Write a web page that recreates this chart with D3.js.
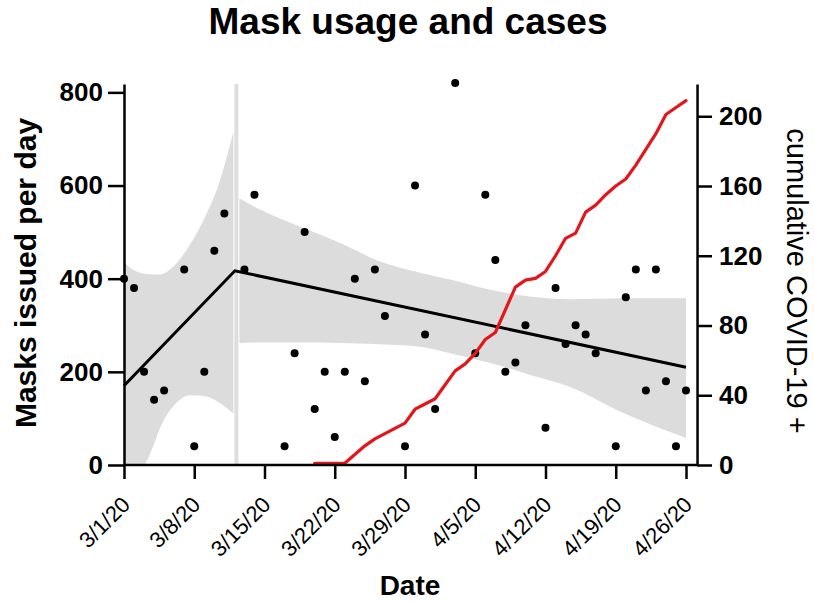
<!DOCTYPE html>
<html><head><meta charset="utf-8">
<script src="https://cdn.jsdelivr.net/npm/d3@7"></script>
<style>
body{margin:0;background:#fff;}
svg{display:block;font-family:"Liberation Sans",Arial,Helvetica,sans-serif;}
</style>
</head><body>
<svg id="c" width="814" height="604"></svg>
<script>
// ---- data (day 0 = 3/1/20) ----
const maskDays   = [0,1,2,3,4,6,7,8,9,10,12,13,16,17,18,19,20,21,22,23,24,25,26,28,29,30,31,33,35,36,37,38,39,40,42,43,44,45,46,47,49,50,51,52,53,54,55,56];
const maskValues = [400,380,200,140,160,420,40,200,460,540,420,580,40,240,500,120,200,60,200,400,180,420,320,40,600,280,120,820,240,580,440,200,220,300,80,380,260,300,280,240,40,360,420,160,420,180,40,160];

const caseDays   = [19,20,21,22,23,24,25,26,27,28,29,30,31,32,33,34,35,36,37,38,39,40,41,42,43,44,45,46,47,48,49,50,51,52,53,54,55,56];
const caseValues = [1,1,1,1,6,11,15,18,21,24,32,35,38,46,54,58,64,72,76,89,102,106,107,111,120,130,133,145,149,155,160,164,172,181,190,201,205,209];

const fitDays   = [0, 11.05, 56];
const fitValues = [170, 417, 210];

const band1Days  = [0, 1, 1.9, 2.9, 3.6, 4.2, 5.2, 6.6, 8.2, 9.4, 10.9];
const band1Upper = [436, 418, 411, 409, 409, 414, 432, 474, 538, 600, 715];
const band1Lower = [0, 0, 0, 40, 80, 105, 133, 150, 147, 135, 110];

const band2Days  = [11.5, 13.6, 17.5, 21.5, 25.5, 29.5, 32.5, 36.5, 40.4, 44.4, 49.7, 56];
const band2Upper = [572, 548, 512, 477, 437, 413, 398, 376, 362, 356, 358, 358];
const band2Lower = [262, 263, 263, 262, 259, 254, 240, 219, 194, 168, 112, 58];

const breakSpan = [11.0, 11.4];

const tickDays   = [0,7,14,21,28,35,42,49,56];
const tickLabels = ["3/1/20","3/8/20","3/15/20","3/22/20","3/29/20","4/5/20","4/12/20","4/19/20","4/26/20"];
const leftTicks  = [0,200,400,600,800];
const rightTicks = [0,40,80,120,160,200];

// ---- scales ----
const svg = d3.select("#c");
const x  = d3.scaleLinear().domain([0,56]).range([124,686]);
const yL = d3.scaleLinear().domain([0,818]).range([465,84]);
const yR = d3.scaleLinear().domain([0,218.5]).range([465,84]);
const xRight = x(57.1);

// ---- confidence bands ----
const band1 = band1Days.map((d,i)=>({d, lo:band1Lower[i], hi:band1Upper[i]}));
const band2 = band2Days.map((d,i)=>({d, lo:band2Lower[i], hi:band2Upper[i]}));
const area = d3.area().x(p=>x(p.d)).y0(p=>yL(p.lo)).y1(p=>yL(p.hi)).curve(d3.curveMonotoneX);
svg.append("path").attr("d", area(band1)).attr("fill","#dcdcdc");
svg.append("path").attr("d", area(band2)).attr("fill","#dcdcdc");
svg.append("rect")
  .attr("x", x(breakSpan[0])).attr("width", x(breakSpan[1]) - x(breakSpan[0]))
  .attr("y", yL(818)).attr("height", yL(0) - yL(818))
  .attr("fill","#dedede");

// ---- fit line ----
const fit = fitDays.map((d,i)=>({d, v:fitValues[i]}));
svg.append("path")
  .attr("d", d3.line().x(p=>x(p.d)).y(p=>yL(p.v))(fit))
  .attr("fill","none").attr("stroke","#000").attr("stroke-width",3);

// ---- dots ----
svg.append("g").selectAll("circle")
  .data(maskDays.map((d,i)=>({d, v:maskValues[i]})))
  .join("circle")
  .attr("cx", p=>x(p.d)).attr("cy", p=>yL(p.v)).attr("r",4).attr("fill","#000");

// ---- cases line ----
const cases = caseDays.map((d,i)=>({d, v:caseValues[i]}));
svg.append("path")
  .attr("d", d3.line().x(p=>x(p.d)).y(p=>yR(p.v))(cases))
  .attr("fill","none").attr("stroke","#e3161b").attr("stroke-width",3.2)
  .attr("stroke-linejoin","round").attr("stroke-linecap","round");

// ---- axes ----
function styleAxis(g, fs, weight){
  g.selectAll("line").attr("stroke","#000").attr("stroke-width",2.5);
  g.selectAll("path.domain").attr("stroke","#000").attr("stroke-width",2.5);
  g.selectAll("text").attr("fill","#000").style("font-size",fs+"px").style("font-weight",weight)
   .style("font-family",'"Liberation Sans",Arial,sans-serif');
}
const gL = svg.append("g").attr("transform",`translate(${x(0)},0)`)
  .call(d3.axisLeft(yL).tickValues(leftTicks).tickSize(16).tickSizeOuter(0).tickPadding(5));
styleAxis(gL, 26, "bold");

const gR = svg.append("g").attr("transform",`translate(${xRight},0)`)
  .call(d3.axisRight(yR).tickValues(rightTicks).tickSize(15).tickSizeOuter(0).tickPadding(7));
styleAxis(gR, 26, "bold");

const gB = svg.append("g").attr("transform",`translate(0,${yL(0)})`)
  .call(d3.axisBottom(x).tickValues(tickDays).tickFormat((d,i)=>tickLabels[i]).tickSize(14).tickSizeOuter(0));
gB.select("path.domain").remove();
gB.append("line").attr("x1", x(0)).attr("x2", xRight).attr("y1",0).attr("y2",0);
styleAxis(gB, 22, "normal");
gB.selectAll(".tick text")
  .attr("x",0).attr("y",0).attr("dy",null)
  .attr("text-anchor","end")
  .attr("transform","translate(7,41) rotate(-45)");

// ---- titles ----
svg.append("text").attr("x",408).attr("y",34).attr("text-anchor","middle")
  .style("font-size","37px").style("font-weight","bold").text("Mask usage and cases");
svg.append("text").attr("transform","translate(36,273) rotate(-90)").attr("text-anchor","middle")
  .style("font-size","30px").style("font-weight","bold").text("Masks issued per day");
svg.append("text").attr("x",410).attr("y",595).attr("text-anchor","middle")
  .style("font-size","28px").style("font-weight","bold").text("Date");
svg.append("text").attr("transform","translate(787,281) rotate(90)").attr("text-anchor","middle")
  .style("font-size","29px").style("font-weight","normal").text("cumulative COVID-19 +");
</script>
</body></html>
